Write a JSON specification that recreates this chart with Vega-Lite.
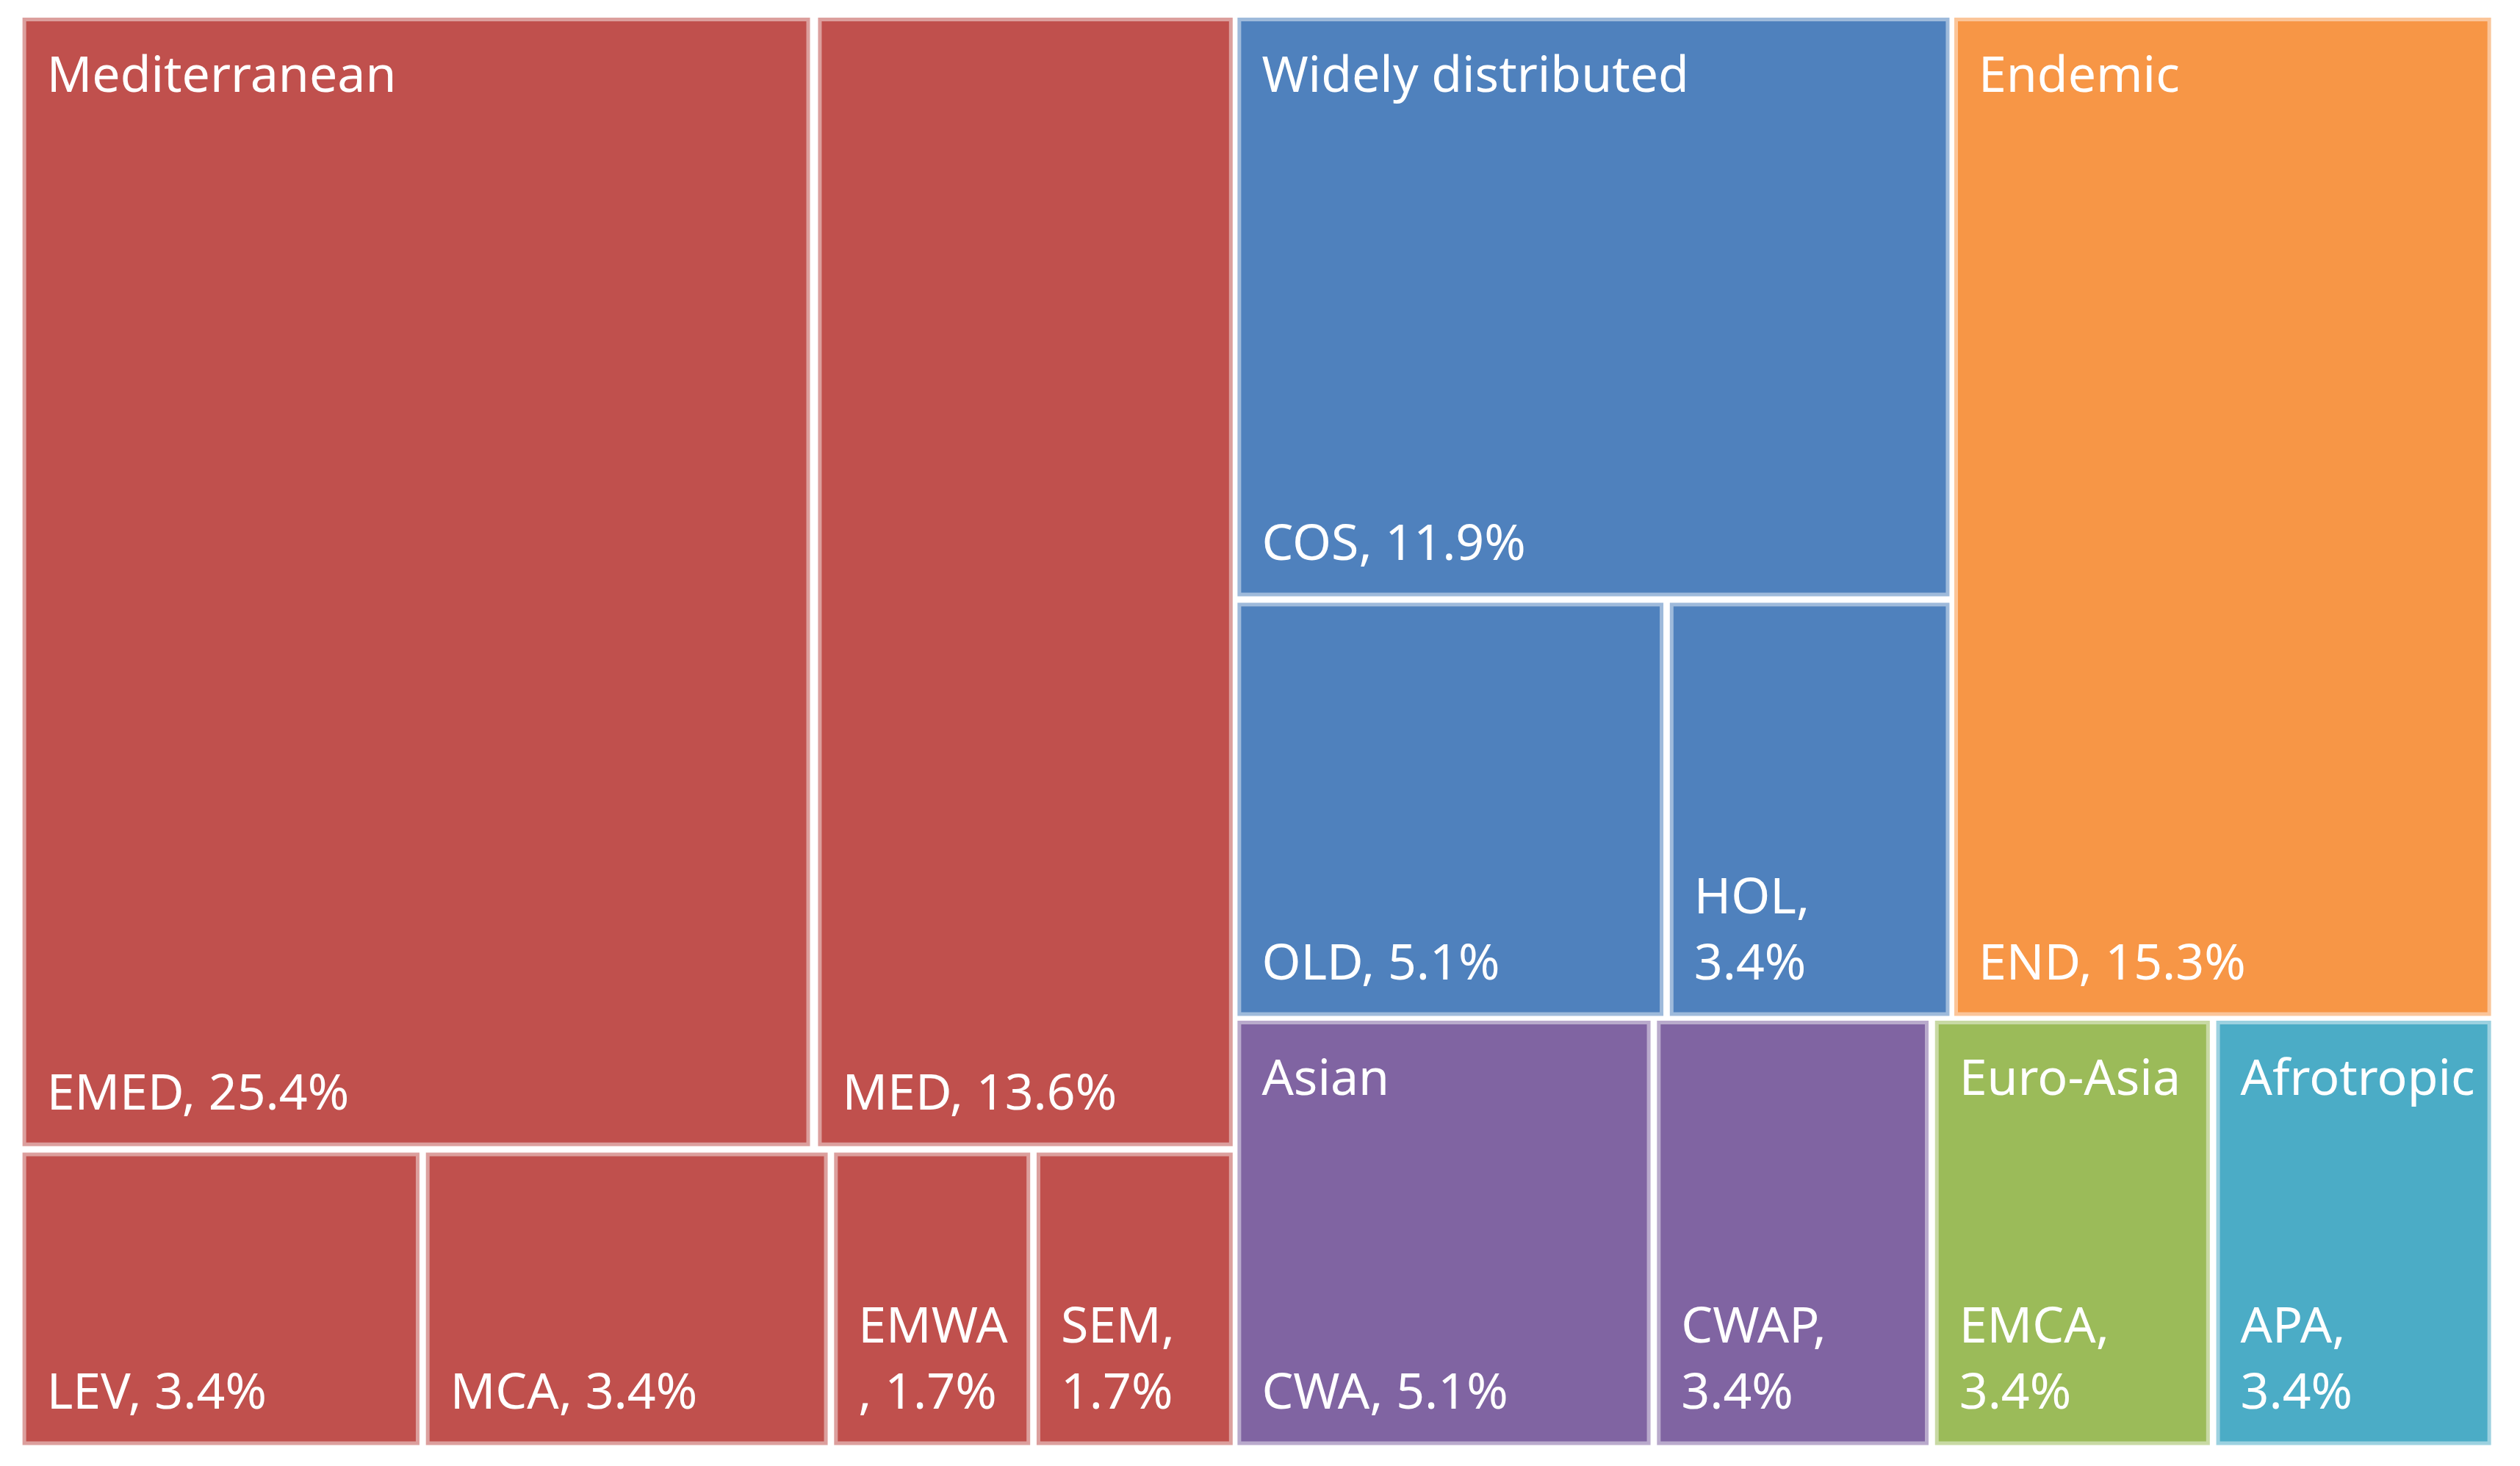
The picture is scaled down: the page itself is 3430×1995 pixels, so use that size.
{
  "$schema": "https://vega.github.io/schema/vega-lite/v6.json",
  "width": 3430,
  "height": 1995,
  "padding": 0,
  "autosize": {"type": "none"},
  "background": "white",
  "view": {"stroke": null},
  "data": {
    "values": [
      {"name": "EMED", "group": "Mediterranean", "pct": 25.4, "line1": "", "line2": "EMED, 25.4%", "glabel": "Mediterranean", "x0": 14, "x1": 504, "y0": 11, "y1": 713},
      {"name": "MED", "group": "Mediterranean", "pct": 13.6, "line1": "", "line2": "MED, 13.6%", "glabel": "", "x0": 509, "x1": 767, "y0": 11, "y1": 713},
      {"name": "LEV", "group": "Mediterranean", "pct": 3.4, "line1": "", "line2": "LEV, 3.4%", "glabel": "", "x0": 14, "x1": 261, "y0": 717, "y1": 899},
      {"name": "MCA", "group": "Mediterranean", "pct": 3.4, "line1": "", "line2": "MCA, 3.4%", "glabel": "", "x0": 265, "x1": 515, "y0": 717, "y1": 899},
      {"name": "EMWA", "group": "Mediterranean", "pct": 1.7, "line1": "EMWA", "line2": ", 1.7%", "glabel": "", "x0": 519, "x1": 641, "y0": 717, "y1": 899},
      {"name": "SEM", "group": "Mediterranean", "pct": 1.7, "line1": "SEM,", "line2": "1.7%", "glabel": "", "x0": 645, "x1": 767, "y0": 717, "y1": 899},
      {"name": "COS", "group": "Widely distributed", "pct": 11.9, "line1": "", "line2": "COS, 11.9%", "glabel": "Widely distributed", "x0": 770, "x1": 1213, "y0": 11, "y1": 371},
      {"name": "OLD", "group": "Widely distributed", "pct": 5.1, "line1": "", "line2": "OLD, 5.1%", "glabel": "", "x0": 770, "x1": 1035, "y0": 375, "y1": 632},
      {"name": "HOL", "group": "Widely distributed", "pct": 3.4, "line1": "HOL,", "line2": "3.4%", "glabel": "", "x0": 1039, "x1": 1213, "y0": 375, "y1": 632},
      {"name": "END", "group": "Endemic", "pct": 15.3, "line1": "", "line2": "END, 15.3%", "glabel": "Endemic", "x0": 1216, "x1": 1550, "y0": 11, "y1": 632},
      {"name": "CWA", "group": "Asian", "pct": 5.1, "line1": "", "line2": "CWA, 5.1%", "glabel": "Asian", "x0": 770, "x1": 1027, "y0": 635, "y1": 899},
      {"name": "CWAP", "group": "Asian", "pct": 3.4, "line1": "CWAP,", "line2": "3.4%", "glabel": "", "x0": 1031, "x1": 1200, "y0": 635, "y1": 899},
      {"name": "EMCA", "group": "Euro-Asia", "pct": 3.4, "line1": "EMCA,", "line2": "3.4%", "glabel": "Euro-Asia", "x0": 1204, "x1": 1375, "y0": 635, "y1": 899},
      {"name": "APA", "group": "Afrotropic", "pct": 3.4, "line1": "APA,", "line2": "3.4%", "glabel": "Afrotropic", "x0": 1379, "x1": 1550, "y0": 635, "y1": 899}
    ]
  },
  "encoding": {
    "x": {"field": "x0", "type": "quantitative", "scale": {"domain": [0, 1568], "nice": false, "zero": false}, "axis": null},
    "y": {"field": "y0", "type": "quantitative", "scale": {"domain": [0, 912], "nice": false, "zero": false, "reverse": true}, "axis": null}
  },
  "layer": [
    {
      "mark": {"type": "rect", "stroke": "white", "strokeOpacity": 0.45, "strokeWidth": 10},
      "encoding": {
        "x2": {"field": "x1"},
        "y2": {"field": "y1"},
        "color": {
          "field": "group", "type": "nominal",
          "scale": {
            "domain": ["Mediterranean", "Widely distributed", "Endemic", "Asian", "Euro-Asia", "Afrotropic"],
            "range": ["#C0504D", "#4F81BD", "#F79646", "#8064A2", "#9BBB59", "#4BACC6"]
          },
          "legend": null
        }
      }
    },
    {
      "mark": {"type": "text", "align": "left", "baseline": "alphabetic", "dx": 33, "dy": 101, "font": "Noto Sans", "fontSize": 68, "color": "white"},
      "encoding": {
        "text": {"field": "glabel"}
      }
    },
    {
      "mark": {"type": "text", "align": "left", "baseline": "alphabetic", "dx": 33, "dy": -50, "font": "Noto Sans", "fontSize": 68, "color": "white"},
      "encoding": {
        "y": {"field": "y1", "type": "quantitative"},
        "text": {"field": "line2"}
      }
    },
    {
      "mark": {"type": "text", "align": "left", "baseline": "alphabetic", "dx": 33, "dy": -140, "font": "Noto Sans", "fontSize": 68, "color": "white"},
      "encoding": {
        "y": {"field": "y1", "type": "quantitative"},
        "text": {"field": "line1"}
      }
    }
  ]
}
